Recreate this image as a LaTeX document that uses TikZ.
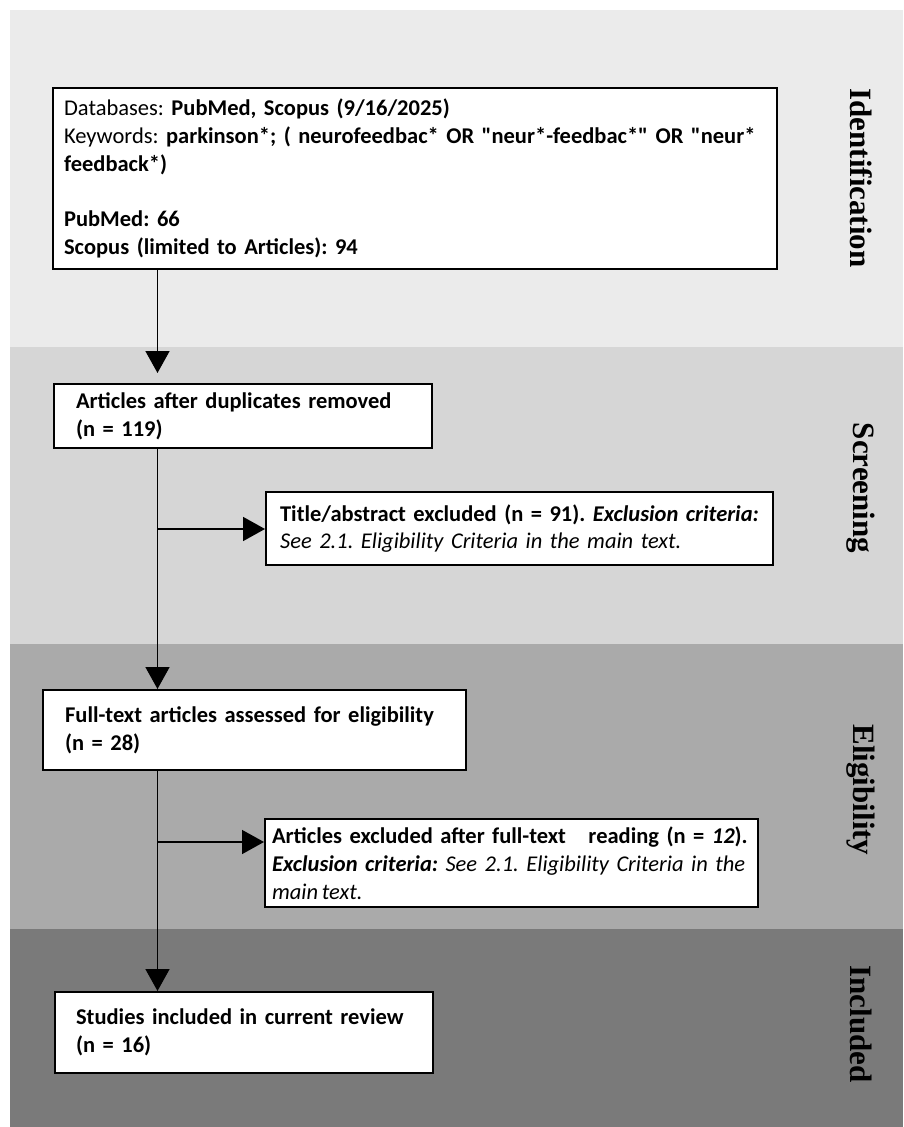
\documentclass[tikz,border=0pt]{standalone}
\usepackage{fontspec}
\newfontfamily\bodyfont{Carlito}
\newfontfamily\labelfont{Liberation Serif}
\usetikzlibrary{arrows.meta}
\begin{document}
\begin{tikzpicture}[x=1pt,y=-1pt,
  box/.style={draw=black, line width=2.2pt, fill=white, inner ysep=0pt,
    align=left, anchor=north west, font=\bodyfont\frenchspacing\fontsize{22.5}{27.8}\selectfont},
  stage/.style={rotate=-90, inner sep=0pt, font=\labelfont\bfseries\fontsize{31}{31}\selectfont},
  arr/.style={line width=1.6pt, -{Triangle[width=24pt,length=22pt]}}]
\definecolor{bandA}{RGB}{235,235,235}
\definecolor{bandB}{RGB}{214,214,214}
\definecolor{bandC}{RGB}{170,170,170}
\definecolor{bandD}{RGB}{122,122,122}
\useasboundingbox (0,0) rectangle (903,1127);
\fill[white] (0,0) rectangle (903,1127);
\fill[bandA] (10,10) rectangle (903,347);
\fill[bandB] (10,347) rectangle (903,644);
\fill[bandC] (10,644) rectangle (903,929);
\fill[bandD] (10,929) rectangle (903,1127);

\node[stage] (sid) at (861,178) {Identification};
\node[stage] (ssc) at (861,488) {Screening};
\node[stage] (sel) at (861,790) {Eligibility};
\node[stage] (sin) at (861,1024) {Included};

\node[box, minimum width=724pt, minimum height=181pt, inner xsep=11pt, text width=702pt] (b1) at (52,87)
{Databases: \textbf{PubMed, Scopus (9/16/2025)}\\
Keywords: \textbf{parkinson*; ( neurofeedbac* OR "neur*-feedbac*" OR "neur*}\\
\textbf{feedback*)}\\[27.8pt]
\textbf{PubMed: 66}\\
\textbf{Scopus (limited to Articles): 94}};

\node[box, minimum width=378pt, minimum height=64pt, inner xsep=22pt, text width=334pt] (b2) at (53,383)
{\textbf{Articles after duplicates removed}\\
\textbf{(n = 119)}};

\node[box, minimum width=507pt, minimum height=73pt, inner xsep=14pt, text width=479pt] (b3) at (265,491)
{\textbf{Title/abstract excluded (n = 91). \textit{Exclusion criteria:}}\\
\textit{See 2.1. Eligibility Criteria in the main text.}};

\node[box, minimum width=423pt, minimum height=80pt, inner xsep=22pt, text width=379pt] (b4) at (42,689)
{\textbf{Full-text articles assessed for eligibility}\\
\textbf{(n = 28)}};

\node[box, minimum width=493pt, minimum height=88pt, inner xsep=7pt, text width=479pt] (b5) at (264,818)
{\makebox[479pt][s]{\textbf{Articles excluded after full-text\ \ \ reading (n = \textit{12}).}}\\
\makebox[479pt][s]{\textbf{\textit{Exclusion criteria:}} \textit{See 2.1. Eligibility Criteria in the}}\\
\textit{main\,text.}};

\node[box, minimum width=378pt, minimum height=81pt, inner xsep=21pt, text width=336pt] (b6) at (54,991)
{\textbf{Studies included in current review}\\
\textbf{(n = 16)}};

\coordinate (j1) at (157.5,529);
\coordinate (j2) at (157.5,842);
\draw[arr, shorten >=10pt] (b1.south -| j1) -- (b2.north -| j1);
\draw[arr] (b2.south -| j1) -- (b4.north -| j1);
\draw[arr] (j1) -- (j1 -| b3.west);
\draw[arr] (j2) -- (j2 -| b5.west);
\draw[arr] (b4.south -| j1) -- (b6.north -| j1);
\end{tikzpicture}
\end{document}
